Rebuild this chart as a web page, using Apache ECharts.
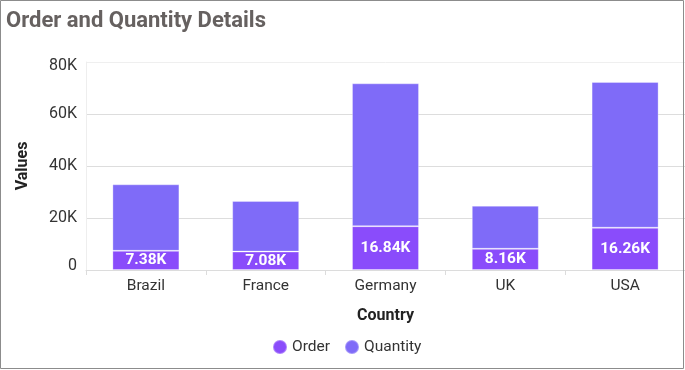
<!DOCTYPE html>
<html>
<head>
<meta charset="utf-8">
<style>
  html, body { margin: 0; padding: 0; background: #fff; }
  #chart { width: 685px; height: 370px; }
</style>
<script src="https://cdn.jsdelivr.net/npm/echarts@6/dist/echarts.min.js"></script>
</head>
<body>
<div id="chart"></div>
<script>
const titleText = 'Order and Quantity Details';
const categories = ['Brazil', 'France', 'Germany', 'UK', 'USA'];
const orderValues = [7380, 7080, 16840, 8160, 16260];
const quantityValues = [25580, 19460, 54960, 16570, 56050];
const seriesNames = ['Order', 'Quantity'];
const yMin = 0, yMax = 80000, yInterval = 20000;

const chart = echarts.init(document.getElementById('chart'), null, { renderer: 'canvas' });
const FONT = 'Roboto';

chart.setOption({
  animation: false,
  backgroundColor: '#ffffff',
  textStyle: { fontFamily: FONT },
  title: {
    text: titleText,
    left: 1, top: 5,
    textStyle: { fontFamily: FONT, fontSize: 22, fontWeight: 'bold', color: '#666160' }
  },
  legend: {
    data: seriesNames,
    left: 272, top: 339,
    padding: 0,
    icon: 'circle',
    itemWidth: 14, itemHeight: 14,
    itemGap: 14,
    textStyle: { fontFamily: FONT, fontSize: 15.5, color: '#333' }
  },
  grid: { left: 86, right: -2, top: 62, bottom: 100, containLabel: false },
  xAxis: {
    type: 'category',
    data: categories,
    name: 'Country',
    nameLocation: 'middle',
    nameGap: 38,
    nameTextStyle: { fontFamily: FONT, fontSize: 16, fontWeight: 'bold', color: '#222' },
    axisLine: { show: true, lineStyle: { color: '#dcdcdc', width: 1 } },
    axisTick: { show: true, length: 5, lineStyle: { color: '#dcdcdc' } },
    axisLabel: { fontFamily: FONT, fontSize: 15.5, color: '#333', margin: 8 },
    splitLine: { show: false }
  },
  yAxis: {
    type: 'value',
    min: yMin, max: yMax, interval: yInterval,
    name: 'Values',
    nameLocation: 'middle',
    nameRotate: 90,
    nameGap: 55,
    nameTextStyle: { fontFamily: FONT, fontSize: 16, fontWeight: 'bold', color: '#222' },
    axisLine: { show: true, lineStyle: { color: '#eeeeee', width: 1 } },
    axisTick: { show: false },
    axisLabel: {
      fontFamily: FONT, fontSize: 16, color: '#333', margin: 9,
      formatter: function (v) {
        if (v === 0) return '{b|0}';
        if (v === yMax) return '{t|' + (v / 1000) + 'K}';
        return (v / 1000) + 'K';
      },
      rich: {
        t: { fontFamily: FONT, fontSize: 16, color: '#333', padding: [8, 0, 0, 0] },
        b: { fontFamily: FONT, fontSize: 16, color: '#333', padding: [0, 0, 8, 0] }
      }
    },
    splitLine: { show: true, lineStyle: { color: ['#dddddd', '#dddddd', '#dddddd', '#dddddd', '#efefef'], width: 1 } }
  },
  series: [
    {
      name: seriesNames[0],
      type: 'bar',
      stack: 'total',
      data: orderValues,
      barWidth: 67,
      itemStyle: { color: '#8a4cfb', borderColor: 'rgba(255,255,255,0.3)', borderWidth: 1 },
      label: {
        show: true,
        position: 'inside',
        fontFamily: FONT, fontSize: 15.5, fontWeight: 'bold', color: '#ffffff',
        formatter: function (p) { return (p.value / 1000).toFixed(2) + 'K'; }
      }
    },
    {
      name: seriesNames[1],
      type: 'bar',
      stack: 'total',
      data: quantityValues,
      barWidth: 67,
      itemStyle: { color: '#7f6bf8', borderColor: 'rgba(255,255,255,0.3)', borderWidth: 1 },
      label: { show: false }
    }
  ],
  graphic: [{
    type: 'rect',
    z: 100,
    silent: true,
    shape: { x: 0.5, y: 0.5, width: 683, height: 368 },
    style: { fill: 'none', stroke: '#8c8c8c', lineWidth: 1 }
  }]
});
</script>
</body>
</html>
